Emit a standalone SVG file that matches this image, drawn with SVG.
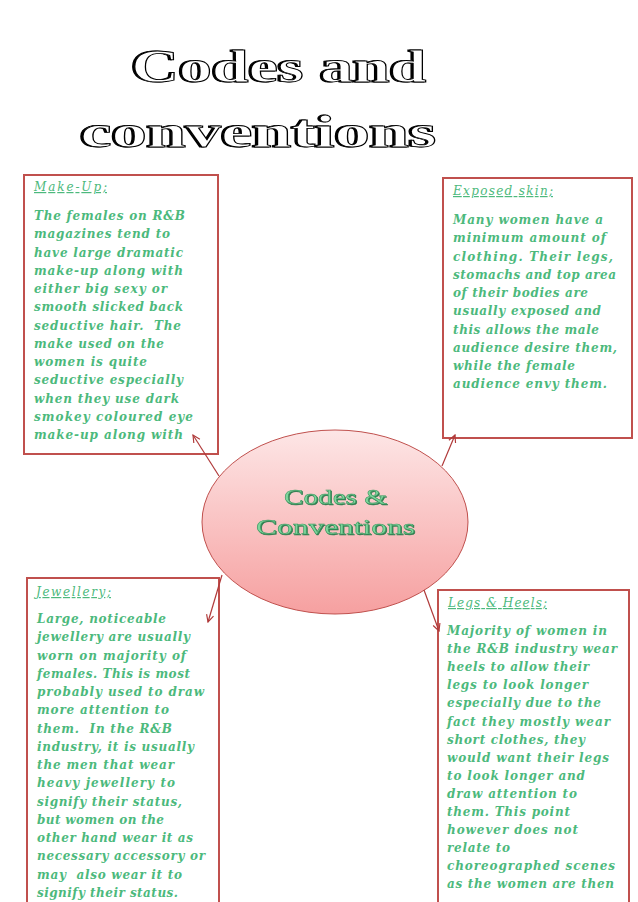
<svg xmlns="http://www.w3.org/2000/svg" width="638" height="902" viewBox="0 0 638 902">
<style>
.box{fill:#ffffff;stroke:#c0504d;stroke-width:2}
.body{font-family:"DejaVu Serif","Liberation Serif",serif;font-style:italic;font-weight:bold;font-size:12px;fill:#4cb97c}
.head{font-family:"DejaVu Serif","Liberation Serif",serif;font-style:italic;font-size:12px;fill:#4cb97c;text-decoration:underline}
.title{font-family:"Liberation Serif",serif;font-size:46px;font-weight:bold;fill:#fff;stroke:#000;stroke-width:0.9;filter:url(#engrave)}
.conn{stroke:#b03a3a;stroke-width:1.2;fill:none}
.ctext{font-family:"Liberation Serif",serif;font-size:21px;fill:#7fd59c;stroke:#3f9a63;stroke-width:0.5;filter:url(#gshadow)}
</style>
<defs>
<marker id="ah" viewBox="0 0 10 10" refX="9" refY="5" markerWidth="9" markerHeight="9" markerUnits="userSpaceOnUse" orient="auto">
<path d="M1,1 L9,5 L1,9" fill="none" stroke="#b03a3a" stroke-width="1.3"/>
</marker>
<linearGradient id="eg" x1="0" y1="0" x2="0" y2="1">
<stop offset="0" stop-color="#fde6e6"/>
<stop offset="1" stop-color="#f6a0a0"/>
</linearGradient>
<filter id="engrave" x="-5%" y="-20%" width="110%" height="140%">
<feOffset in="SourceAlpha" dx="-2" dy="0" result="o"/>
<feFlood flood-color="#000"/>
<feComposite in2="o" operator="in" result="sh"/>
<feMerge><feMergeNode in="sh"/><feMergeNode in="SourceGraphic"/></feMerge>
</filter>
<filter id="gshadow" x="-5%" y="-20%" width="110%" height="140%">
<feOffset in="SourceAlpha" dx="1" dy="1" result="o"/>
<feFlood flood-color="#2f7d4f"/>
<feComposite in2="o" operator="in" result="sh"/>
<feMerge><feMergeNode in="sh"/><feMergeNode in="SourceGraphic"/></feMerge>
</filter>
</defs>
<rect width="638" height="902" fill="#ffffff"/>

<g id="title">
<text class="title" x="131.5" y="82" textLength="295" lengthAdjust="spacingAndGlyphs">Codes and</text>
<text class="title" x="80.5" y="147" textLength="356" lengthAdjust="spacingAndGlyphs">conventions</text>
</g>

<g id="makeup">
<rect class="box" x="24" y="175" width="194" height="279"/>
<text class="head" x="34" y="191" textLength="73">Make-Up;</text>
<text class="body" x="34" y="220" textLength="151">The females on R&amp;B</text>
<text class="body" x="34" y="238.25" textLength="136">magazines tend to</text>
<text class="body" x="34" y="256.5" textLength="149">have large dramatic</text>
<text class="body" x="34" y="274.75" textLength="149">make-up along with</text>
<text class="body" x="34" y="293" textLength="133">either big sexy or</text>
<text class="body" x="34" y="311.25" textLength="149">smooth slicked back</text>
<text class="body" x="34" y="329.5" textLength="147" xml:space="preserve">seductive hair.  The</text>
<text class="body" x="34" y="347.75" textLength="130">make used on the</text>
<text class="body" x="34" y="366" textLength="113">women is quite</text>
<text class="body" x="34" y="384.25" textLength="149">seductive especially</text>
<text class="body" x="34" y="402.5" textLength="145">when they use dark</text>
<text class="body" x="34" y="420.75" textLength="159">smokey coloured eye</text>
<text class="body" x="34" y="439" textLength="149">make-up along with</text>
</g>

<g id="exposed">
<rect class="box" x="443" y="178" width="189" height="260"/>
<text class="head" x="453" y="195" textLength="100">Exposed skin;</text>
<text class="body" x="453" y="224" textLength="150">Many women have a</text>
<text class="body" x="453" y="242.25" textLength="153">minimum amount of</text>
<text class="body" x="453" y="260.5" textLength="160">clothing. Their legs,</text>
<text class="body" x="453" y="278.75" textLength="163">stomachs and top area</text>
<text class="body" x="453" y="297" textLength="135">of their bodies are</text>
<text class="body" x="453" y="315.25" textLength="148">usually exposed and</text>
<text class="body" x="453" y="333.5" textLength="146">this allows the male</text>
<text class="body" x="453" y="351.75" textLength="164">audience desire them,</text>
<text class="body" x="453" y="370" textLength="122">while the female</text>
<text class="body" x="453" y="388.25" textLength="154">audience envy them.</text>
</g>

<g id="center">
<ellipse cx="335" cy="522" rx="133" ry="92" fill="url(#eg)" stroke="#c0504d" stroke-width="1"/>
<text class="ctext" x="284" y="504" textLength="103" lengthAdjust="spacingAndGlyphs">Codes &amp;</text>
<text class="ctext" x="256" y="534" textLength="159" lengthAdjust="spacingAndGlyphs">Conventions</text>
</g>

<g id="jewellery">
<rect class="box" x="27" y="578" width="192" height="340"/>
<text class="head" x="36" y="596" textLength="75">Jewellery;</text>
<text class="body" x="37" y="623" textLength="129">Large, noticeable</text>
<text class="body" x="37" y="641.25" textLength="153">jewellery are usually</text>
<text class="body" x="37" y="659.5" textLength="149">worn on majority of</text>
<text class="body" x="37" y="677.75" textLength="153">females. This is most</text>
<text class="body" x="37" y="696" textLength="167">probably used to draw</text>
<text class="body" x="37" y="714.25" textLength="132">more attention to</text>
<text class="body" x="37" y="732.5" textLength="135" xml:space="preserve">them.  In the R&amp;B</text>
<text class="body" x="37" y="750.75" textLength="157">industry, it is usually</text>
<text class="body" x="37" y="769" textLength="137">the men that wear</text>
<text class="body" x="37" y="787.25" textLength="138">heavy jewellery to</text>
<text class="body" x="37" y="805.5" textLength="145">signify their status,</text>
<text class="body" x="37" y="823.75" textLength="127">but women on the</text>
<text class="body" x="37" y="842" textLength="156">other hand wear it as</text>
<text class="body" x="37" y="860.25" textLength="168">necessary accessory or</text>
<text class="body" x="37" y="878.5" textLength="145" xml:space="preserve">may  also wear it to</text>
<text class="body" x="37" y="896.75" textLength="141">signify their status.</text>
</g>

<g id="legs">
<rect class="box" x="438" y="590" width="191" height="330"/>
<text class="head" x="448" y="607" textLength="99">Legs &amp; Heels;</text>
<text class="body" x="447" y="635" textLength="160">Majority of women in</text>
<text class="body" x="447" y="653.1" textLength="170">the R&amp;B industry wear</text>
<text class="body" x="447" y="671.2" textLength="142">heels to allow their</text>
<text class="body" x="447" y="689.3" textLength="141">legs to look longer</text>
<text class="body" x="447" y="707.4" textLength="154">especially due to the</text>
<text class="body" x="447" y="725.5" textLength="163">fact they mostly wear</text>
<text class="body" x="447" y="743.6" textLength="138">short clothes, they</text>
<text class="body" x="447" y="761.7" textLength="162">would want their legs</text>
<text class="body" x="447" y="779.8" textLength="138">to look longer and</text>
<text class="body" x="447" y="797.9" textLength="130">draw attention to</text>
<text class="body" x="447" y="816" textLength="123">them. This point</text>
<text class="body" x="447" y="834.1" textLength="131">however does not</text>
<text class="body" x="447" y="852.2" textLength="63">relate to</text>
<text class="body" x="447" y="870.3" textLength="168">choreographed scenes</text>
<text class="body" x="447" y="888.4" textLength="167">as the women are then</text>
</g>

<g id="connectors">
<line class="conn" x1="219" y1="476" x2="193" y2="435" marker-end="url(#ah)"/>
<line class="conn" x1="442" y1="466" x2="455" y2="435" marker-end="url(#ah)"/>
<line class="conn" x1="222" y1="575" x2="208" y2="622" marker-end="url(#ah)"/>
<line class="conn" x1="424" y1="590" x2="439" y2="631" marker-end="url(#ah)"/>
</g>
</svg>
